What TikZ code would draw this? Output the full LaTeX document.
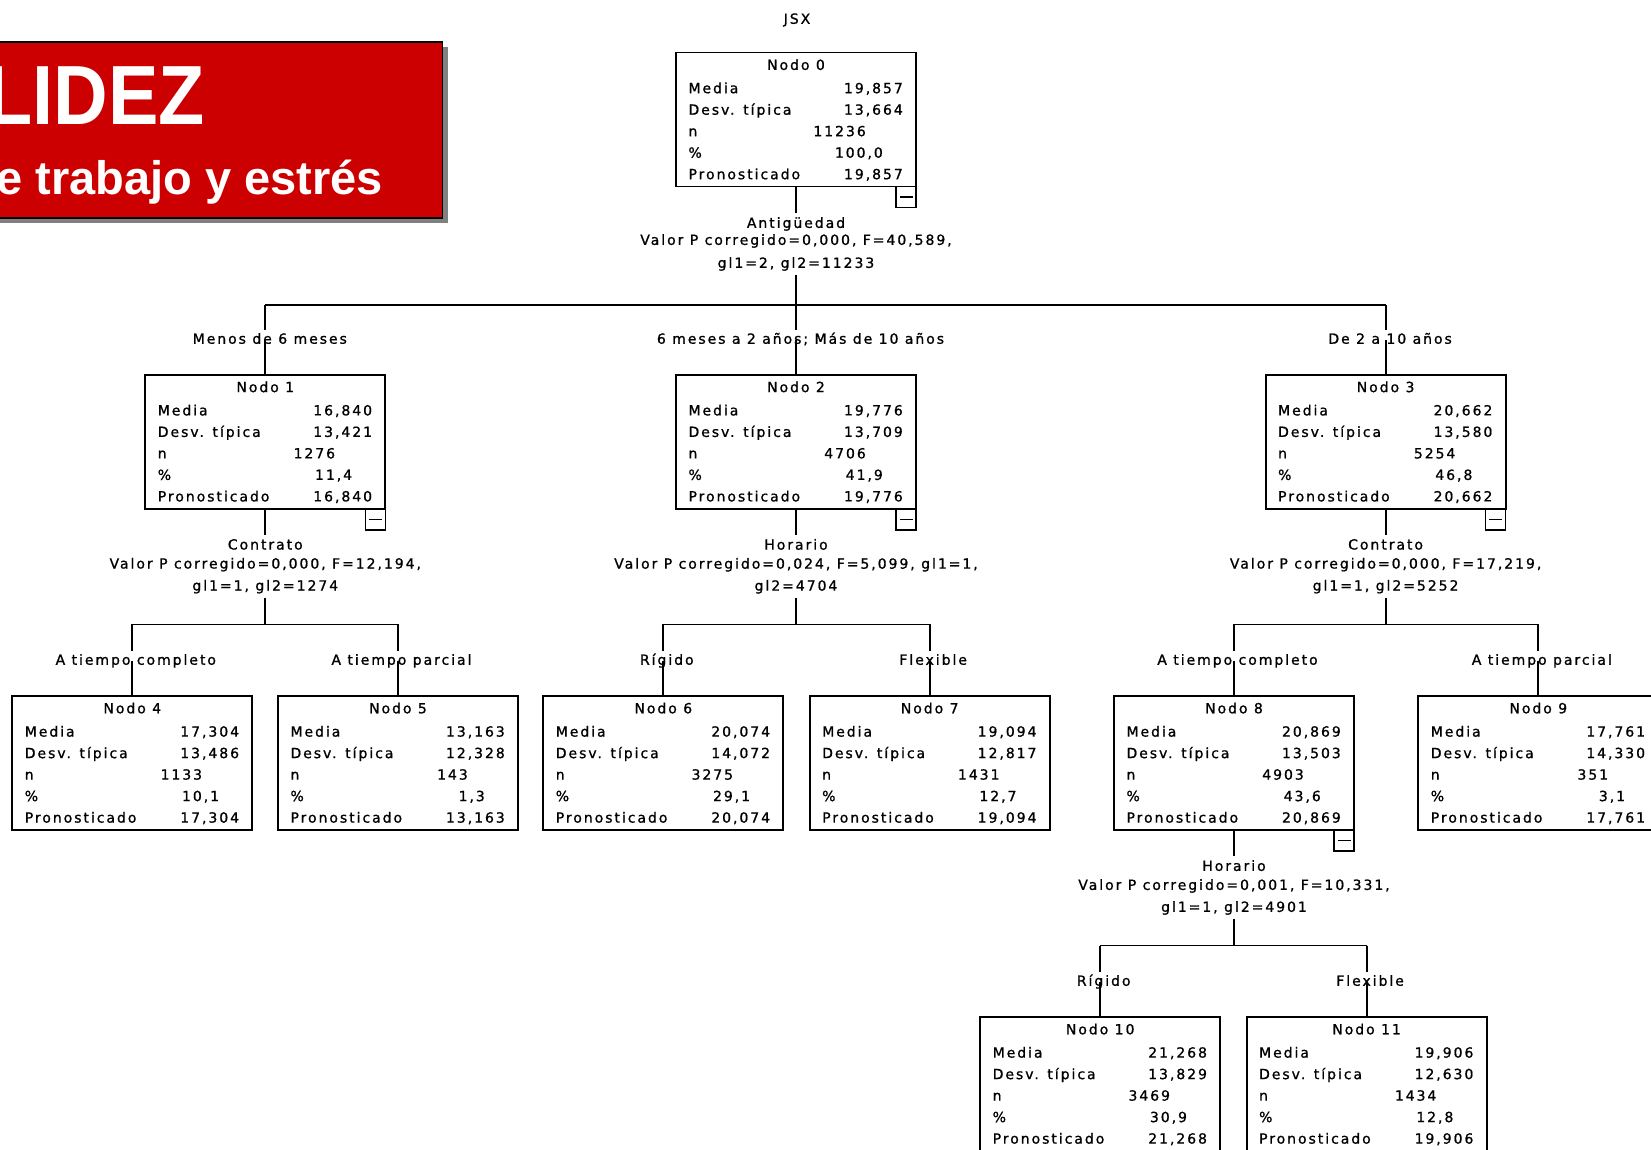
\documentclass[tikz,border=0pt]{standalone}
\usepackage{fontspec}
\setmainfont{Liberation Sans}
\newfontfamily\treefont[LetterSpace=14,FakeBold=1]{DejaVu Sans}
\usetikzlibrary{calc}
\definecolor{bannerred}{RGB}{204,0,0}
\definecolor{shadowgray}{RGB}{128,128,128}
\tikzset{
  box/.style={draw, line width=1.8pt, minimum width=240pt, minimum height=134pt, inner sep=0pt, outer sep=0pt, anchor=north west},
  txt/.style={font=\treefont\fontsize{14}{16}\selectfont, inner sep=0pt},
  lab/.style={txt, inner sep=3pt, text height=10.5pt, text depth=3pt},
  split/.style={txt, align=center, inner sep=4pt},
  conn/.style={line width=1.8pt},
  minusbox/.style={draw, line width=1.5pt, minimum width=20pt, minimum height=21pt, inner sep=0pt, outer sep=0pt, anchor=north east,
    path picture={\draw[line width=1.5pt] ([xshift=3.5pt]path picture bounding box.west) -- ([xshift=-3.5pt]path picture bounding box.east);}},
}
\newcommand\treebox[9]{%
  \node[box] (#1) at (#2,#3) {};
  \node[txt, anchor=base] (#1-t) at ([shift={(120,17.3)}]#1.north west) {Nodo #4};
  \node[txt, anchor=base west] (#1-a) at ([shift={(12.3,40.6)}]#1.north west) {Media};
  \node[txt, anchor=base east] (#1-av) at ([shift={(227,40.6)}]#1.north west) {#5};
  \node[txt, anchor=base west] (#1-b) at ([shift={(12.3,62.1)}]#1.north west) {Desv. típica};
  \node[txt, anchor=base east] (#1-bv) at ([shift={(227,62.1)}]#1.north west) {#6};
  \node[txt, anchor=base west] (#1-c) at ([shift={(12.3,83.6)}]#1.north west) {n};
  \node[txt, anchor=base east] (#1-cv) at ([shift={(190,83.6)}]#1.north west) {#7};
  \node[txt, anchor=base west] (#1-d) at ([shift={(12.3,105.1)}]#1.north west) {\%};
  \node[txt, anchor=base east] (#1-dv) at ([shift={(207,105.1)}]#1.north west) {#8};
  \node[txt, anchor=base west] (#1-e) at ([shift={(12.3,126.6)}]#1.north west) {Pronosticado};
  \node[txt, anchor=base east] (#1-ev) at ([shift={(227,126.6)}]#1.north west) {#9};
}
\newcommand\branch[3]{%
  \draw[conn] (#2.north |- #1) -- (#2.north |- #3.north);
  \draw[conn] (#2.north |- #3.center) -- (#2.north);
}
\begin{document}
\begin{tikzpicture}[x=1pt, y=-1pt]
\useasboundingbox (0,0) rectangle (1651,1150);
\fill[white] (0,0) rectangle (1651,1150);
\clip (0,0) rectangle (1651,1150);

% banner
\fill[shadowgray] (-20,47) rectangle (448,223.5);
\draw[line width=1.8pt, fill=bannerred] (-20,42) rectangle (442.5,218);
\node[anchor=base west, text=white, font=\bfseries\fontsize{84}{84}\selectfont, inner sep=0pt] (title1) at (-13.5,125) {\scalebox{0.9}[1]{LIDEZ}};
\node[anchor=base west, text=white, font=\bfseries\fontsize{47}{47}\selectfont, inner sep=0pt] (title2) at (-4,195) {e trabajo y estrés};

% tree
\node[txt] (jsx) at (797,20) {JSX};

\treebox{n0}{676}{52.6}{0}{19,857}{13,664}{11236}{100,0}{19,857}
\treebox{n1}{145.3}{374.8}{1}{16,840}{13,421}{1276}{11,4}{16,840}
\treebox{n2}{676}{374.8}{2}{19,776}{13,709}{4706}{41,9}{19,776}
\treebox{n3}{1265.6}{374.8}{3}{20,662}{13,580}{5254}{46,8}{20,662}
\treebox{n4}{12.3}{696}{4}{17,304}{13,486}{1133}{10,1}{17,304}
\treebox{n5}{278}{696}{5}{13,163}{12,328}{143}{1,3}{13,163}
\treebox{n6}{543.3}{696}{6}{20,074}{14,072}{3275}{29,1}{20,074}
\treebox{n7}{809.7}{696}{7}{19,094}{12,817}{1431}{12,7}{19,094}
\treebox{n8}{1114}{696}{8}{20,869}{13,503}{4903}{43,6}{20,869}
\treebox{n9}{1418.3}{696}{9}{17,761}{14,330}{351}{3,1}{17,761}
\treebox{n10}{980.2}{1017}{10}{21,268}{13,829}{3469}{30,9}{21,268}
\treebox{n11}{1246.6}{1017}{11}{19,906}{12,630}{1434}{12,8}{19,906}

\node[minusbox] (n0m) at (n0.south east) {};
\node[minusbox] (n1m) at (n1.south east) {};
\node[minusbox] (n2m) at (n2.south east) {};
\node[minusbox] (n3m) at (n3.south east) {};
\node[minusbox] (n8m) at (n8.south east) {};

% split texts
\node[split] (s0) at (796,244) {Antigüedad\\[1pt]Valor P corregido=0,000, F=40,589,\\[7pt]gl1=2, gl2=11233};
\node[split] (s1) at (265.3,566.3) {Contrato\\[3pt]Valor P corregido=0,000, F=12,194,\\[6pt]gl1=1, gl2=1274};
\node[split] (s2) at (796,566.3) {Horario\\[3pt]Valor P corregido=0,024, F=5,099, gl1=1,\\[6pt]gl2=4704};
\node[split] (s3) at (1385.6,566.3) {Contrato\\[3pt]Valor P corregido=0,000, F=17,219,\\[6pt]gl1=1, gl2=5252};
\node[split] (s8) at (1234,887.5) {Horario\\[3pt]Valor P corregido=0,001, F=10,331,\\[6pt]gl1=1, gl2=4901};

% bars
\coordinate (b0) at (796,305.3);
\coordinate (b1) at (265.3,624.4);
\coordinate (b2) at (796,624.4);
\coordinate (b3) at (1385.6,624.4);
\coordinate (b8) at (1234,945.5);

% branch labels
\node[lab] (l1) at (269.8,340) {Menos de 6 meses};
\node[lab] (l2) at (800.5,340) {6 meses a 2 años; Más de 10 años};
\node[lab] (l3) at (1390.1,340) {De 2 a 10 años};
\node[lab] (l4) at (135.8,661) {A tiempo completo};
\node[lab] (l5) at (401.5,661) {A tiempo parcial};
\node[lab] (l6) at (666.8,661) {Rígido};
\node[lab] (l7) at (933.2,661) {Flexible};
\node[lab] (l8) at (1237.5,661) {A tiempo completo};
\node[lab] (l9) at (1541.8,661) {A tiempo parcial};
\node[lab] (l10) at (1103.7,982) {Rígido};
\node[lab] (l11) at (1370.1,982) {Flexible};

% connectors
\draw[conn] (n0.south) -- (s0.north);
\draw[conn] (s0.south) -- (b0);
\draw[conn] (n1.north |- b0) -- (n3.north |- b0);
\branch{b0}{n1}{l1}
\branch{b0}{n2}{l2}
\branch{b0}{n3}{l3}

\draw[conn] (n1.south) -- (s1.north);
\draw[conn] (s1.south) -- (b1);
\draw[conn] (n4.north |- b1) -- (n5.north |- b1);
\branch{b1}{n4}{l4}
\branch{b1}{n5}{l5}

\draw[conn] (n2.south) -- (s2.north);
\draw[conn] (s2.south) -- (b2);
\draw[conn] (n6.north |- b2) -- (n7.north |- b2);
\branch{b2}{n6}{l6}
\branch{b2}{n7}{l7}

\draw[conn] (n3.south) -- (s3.north);
\draw[conn] (s3.south) -- (b3);
\draw[conn] (n8.north |- b3) -- (n9.north |- b3);
\branch{b3}{n8}{l8}
\branch{b3}{n9}{l9}

\draw[conn] (n8.south) -- (s8.north);
\draw[conn] (s8.south) -- (b8);
\draw[conn] (n10.north |- b8) -- (n11.north |- b8);
\branch{b8}{n10}{l10}
\branch{b8}{n11}{l11}
\end{tikzpicture}
\end{document}
